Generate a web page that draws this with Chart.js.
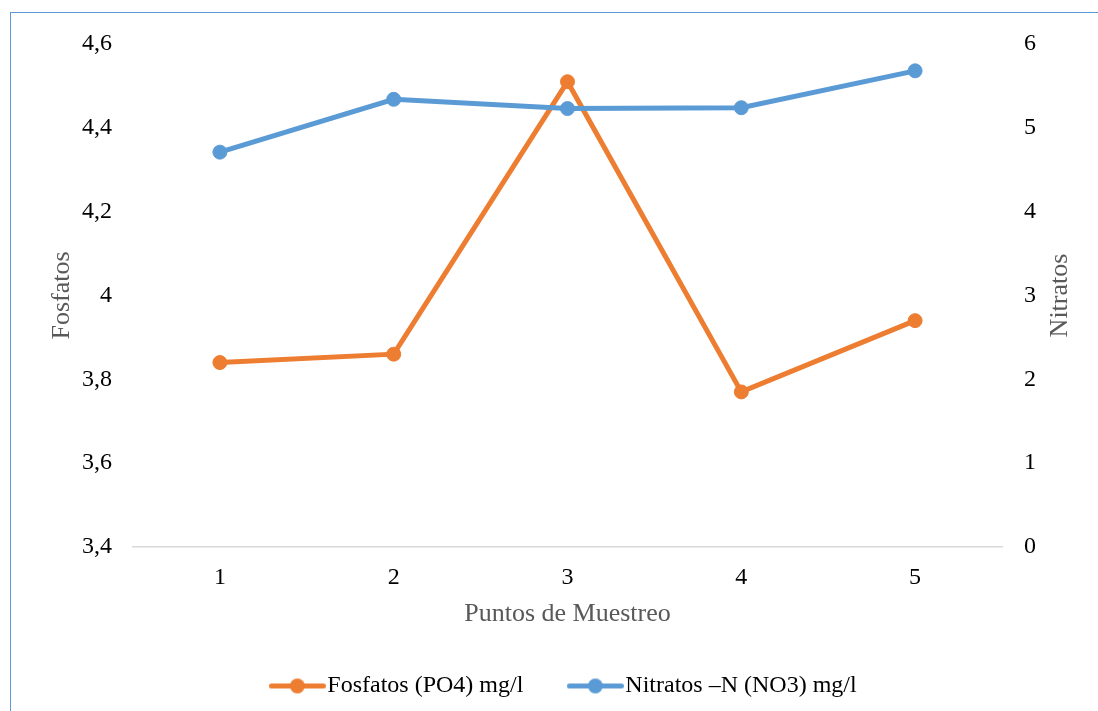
<!DOCTYPE html>
<html>
<head>
<meta charset="utf-8">
<script src="https://cdn.jsdelivr.net/npm/chart.js@4/dist/chart.umd.min.js"></script>
<style>
  html, body { margin: 0; padding: 0; background: #fff; overflow: hidden; }
  #frame { position: absolute; left: 10px; top: 12px; width: 1200px; height: 800px;
           border-left: 1.5px solid #5B9BD5; border-top: 1.5px solid #5B9BD5; }
  #wrap { position: absolute; left: 0; top: 0; width: 1098px; height: 711px; }
</style>
</head>
<body>
<div id="frame"></div>
<div id="wrap"><canvas id="chart"></canvas></div>
<script>
"use strict";

// sampling points and measured values
const puntos    = ['1', '2', '3', '4', '5'];
const fosfatos  = [3.84, 3.86, 4.51, 3.77, 3.94];
const nitratos  = [4.71, 5.34, 5.23, 5.24, 5.68];

const fosfatosTicks = ['3,4', '3,6', '3,8', '4', '4,2', '4,4', '4,6'];
const nitratosTicks = ['0', '1', '2', '3', '4', '5', '6'];

const ORANGE = '#ED7D31';
const BLUE   = '#5B9BD5';
const SERIF  = "'Liberation Serif', 'Times New Roman', serif";

// line + marker swatch used as the legend symbol
function legendMark(color)
 {
   const c = document.createElement('canvas');
   c.width = 57;
   c.height = 17;
   const ctx = c.getContext('2d');
   ctx.strokeStyle = color;
   ctx.fillStyle = color;
   ctx.lineWidth = 5;
   ctx.lineCap = 'round';
   ctx.beginPath();
   ctx.moveTo(2.5, 8.5);
   ctx.lineTo(54.5, 8.5);
   ctx.stroke();
   ctx.beginPath();
   ctx.arc(28.5, 8.5, 7.5, 0, Math.PI * 2);
   ctx.fill();
   return c;
 }

const marks = [legendMark(ORANGE), legendMark(BLUE)];

// Chart.js turns a right-hand title clockwise; this one reads bottom-up like the left one
const rightTitle = {
   id: 'rightTitle',
   afterDraw(chart) {
      const sc = chart.scales.yNit;
      const area = chart.chartArea;
      const ctx = chart.ctx;
      ctx.save();
      ctx.translate(sc.right - 38, (area.top + area.bottom) / 2);
      ctx.rotate(-Math.PI / 2);
      ctx.font = '26px ' + SERIF;
      ctx.fillStyle = '#595959';
      ctx.textAlign = 'center';
      ctx.textBaseline = 'middle';
      ctx.fillText('Nitratos', 0, 0);
      ctx.restore();
   }
};

new Chart(document.getElementById('chart'), {
   type: 'line',
   plugins: [rightTitle],
   data: {
      labels: puntos,
      datasets: [
         { label: 'Fosfatos (PO4) mg/l', data: fosfatos, yAxisID: 'yFos', order: 1,
           borderColor: ORANGE, backgroundColor: ORANGE, borderWidth: 5,
           pointRadius: 7, pointBorderWidth: 1, pointBackgroundColor: ORANGE, pointBorderColor: ORANGE },
         { label: 'Nitratos \u2013N (NO3) mg/l', data: nitratos, yAxisID: 'yNit', order: 0,
           borderColor: BLUE, backgroundColor: BLUE, borderWidth: 5,
           pointRadius: 7, pointBorderWidth: 1, pointBackgroundColor: BLUE, pointBorderColor: BLUE }
      ]
   },
   options: {
      responsive: true,
      maintainAspectRatio: false,
      animation: false,
      layout: { padding: { top: 44, left: 38, right: 0, bottom: 3 } },
      plugins: {
         tooltip: { enabled: false },
         legend: {
            position: 'bottom',
            labels: {
               usePointStyle: true,
               pointStyleWidth: 36,
               padding: 54,
               color: '#000',
               font: { family: SERIF, size: 24 },
               generateLabels: function(chart) {
                  return chart.data.datasets.map((ds, i) => ({
                     text: ds.label,
                     pointStyle: marks[i],
                     fontColor: '#000',
                     lineWidth: 0,
                     hidden: false,
                     datasetIndex: i
                  }));
               }
            }
         }
      },
      scales: {
         x: {
            offset: true,
            grid: { display: false, drawTicks: false },
            border: { display: true, color: '#D9D9D9', width: 1.5 },
            ticks: { padding: 16, color: '#000', font: { family: SERIF, size: 24 } },
            title: { display: true, text: 'Puntos de Muestreo', color: '#595959',
                     font: { family: SERIF, size: 26, lineHeight: '12px' }, padding: 0 },
            afterFit: function(scale) { scale.height = 73; }
         },
         yFos: {
            position: 'left',
            min: 3.4,
            max: 4.6,
            grid: { display: false, drawTicks: false },
            border: { display: false },
            ticks: { stepSize: 0.2, padding: 21, color: '#000', font: { family: SERIF, size: 24 },
                     callback: (v, i) => fosfatosTicks[i] },
            title: { display: true, text: 'Fosfatos', color: '#595959',
                     font: { family: SERIF, size: 26, lineHeight: 1 }, padding: { top: 11, bottom: 0 } },
            afterFit: function(scale) { scale.width = 95; }
         },
         yNit: {
            position: 'right',
            min: 0,
            max: 6,
            grid: { display: false, drawTicks: false },
            border: { display: false },
            ticks: { stepSize: 1, padding: 22, color: '#000', font: { family: SERIF, size: 24 },
                     callback: (v, i) => nitratosTicks[i] },
            afterFit: function(scale) { scale.width = 96; }
         }
      }
   }
});
</script>
</body>
</html>
